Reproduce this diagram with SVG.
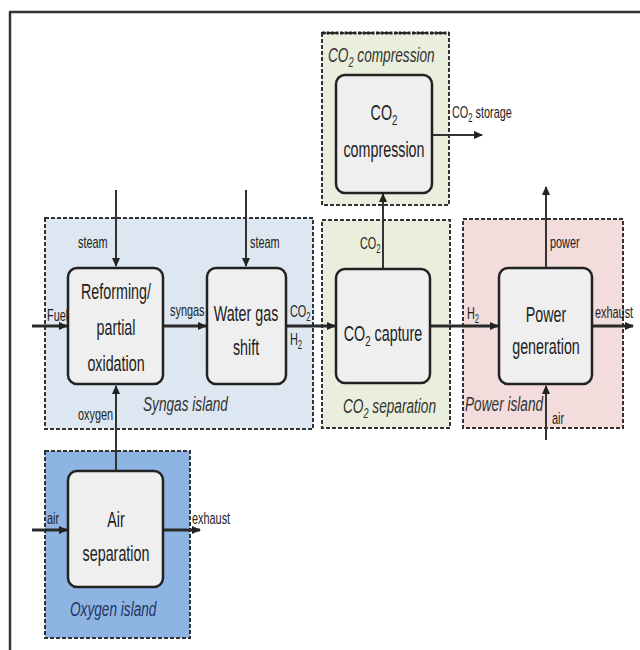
<svg xmlns="http://www.w3.org/2000/svg" width="640" height="650" viewBox="0 0 640 650">
<defs>
<marker id="ah" markerUnits="userSpaceOnUse" markerWidth="9" markerHeight="8" refX="8" refY="4" orient="auto">
<path d="M0,0 L9,4 L0,8 z" fill="#222"/>
</marker>
<style>
.isl{stroke:#333;stroke-width:2;stroke-dasharray:4 2}
.syn{fill:#dde7f1}
.grn{fill:#e9efdc}
.pow{fill:#f2dcdc}
.oxy{fill:#8eb4e3}
.node{fill:#efefef;stroke:#222;stroke-width:2.5}
.conn{stroke:#333;stroke-width:2;fill:none;marker-end:url(#ah)}
.flow{stroke-width:3;stroke:#2a2a2a}
.nt{font-family:"Liberation Sans",Arial,sans-serif;font-size:22px;fill:#222;text-anchor:middle}
.lb{font-family:"Liberation Sans",Arial,sans-serif;font-size:17px;fill:#222}
.it{font-family:"Liberation Sans",Arial,sans-serif;font-size:21px;font-style:italic;fill:#333}
</style>
</defs>
<rect x="0" y="0" width="640" height="650" fill="#fff"/>
<path d="M9,12 H640 M10,12 V650" stroke="#333" stroke-width="2.5" fill="none"/>

<g id="islands">
<g id="island-co2-compression">
<rect class="grn isl" x="322" y="33" width="127" height="172"/>
<path d="M322,33 H449" stroke="#222" stroke-width="3" stroke-dasharray="3 1.5"/>
<text class="it" transform="translate(328,62) scale(0.65,1)">CO<tspan font-size="14" dy="5">2</tspan><tspan dy="-5"> compression</tspan></text>
</g>
<g id="island-syngas">
<rect class="syn isl" x="45" y="218" width="268" height="211"/>
<text class="it" transform="translate(143,411) scale(0.65,1)">Syngas island</text>
</g>
<g id="island-co2-separation">
<rect class="grn isl" x="322" y="220" width="128" height="208"/>
<text class="it" transform="translate(343,413) scale(0.65,1)">CO<tspan font-size="14" dy="5">2</tspan><tspan dy="-5"> separation</tspan></text>
</g>
<g id="island-power">
<rect class="pow isl" x="463" y="219" width="160" height="209"/>
<text class="it" transform="translate(465,411) scale(0.65,1)">Power island</text>
</g>
<g id="island-oxygen">
<rect class="oxy isl" x="45" y="451" width="145" height="187"/>
<text class="it" transform="translate(70,616) scale(0.65,1)" style="fill:#1f3560">Oxygen island</text>
</g>
</g>

<g id="connectors">
<path class="conn" d="M116,190 V266"/>
<path class="conn" d="M246,190 V266"/>
<path class="conn flow" d="M32,326 H67"/>
<path class="conn flow" d="M163,326 H206"/>
<path class="conn flow" d="M286,326 H335"/>
<path class="conn flow" d="M430,326 H498"/>
<path class="conn flow" d="M592,326 H633"/>
<path class="conn" d="M546,268 V187"/>
<path class="conn" d="M546,440 V386"/>
<path class="conn" d="M383,268 V194"/>
<path class="conn" d="M432,135 H482"/>
<path class="conn" d="M116,471 V386"/>
<path class="conn flow" d="M32,530 H67"/>
<path class="conn flow" d="M163,530 H200"/>
</g>

<g id="labels">
<text class="lb" transform="translate(78,248) scale(0.64,1)">steam</text>
<text class="lb" transform="translate(250,248) scale(0.64,1)">steam</text>
<text class="lb" transform="translate(47,321) scale(0.64,1)">Fuel</text>
<text class="lb" transform="translate(170,316) scale(0.64,1)">syngas</text>
<text class="lb" transform="translate(290,317) scale(0.64,1)">CO<tspan font-size="12" dy="4">2</tspan></text>
<text class="lb" transform="translate(290,345) scale(0.64,1)">H<tspan font-size="12" dy="4">2</tspan></text>
<text class="lb" transform="translate(78,420) scale(0.64,1)">oxygen</text>
<text class="lb" transform="translate(360,249) scale(0.64,1)">CO<tspan font-size="12" dy="4">2</tspan></text>
<text class="lb" transform="translate(452,118) scale(0.64,1)">CO<tspan font-size="12" dy="4">2</tspan><tspan dy="-4"> storage</tspan></text>
<text class="lb" transform="translate(467,319) scale(0.64,1)">H<tspan font-size="12" dy="4">2</tspan></text>
<text class="lb" transform="translate(550,248) scale(0.64,1)">power</text>
<text class="lb" transform="translate(595,318) scale(0.64,1)">exhaust</text>
<text class="lb" transform="translate(552,424) scale(0.64,1)">air</text>
<text class="lb" transform="translate(47,524) scale(0.64,1)">air</text>
<text class="lb" transform="translate(192,524) scale(0.64,1)">exhaust</text>
</g>

<g id="node-co2-compression">
<rect class="node" x="336" y="75" width="96" height="118" rx="9"/>
<text class="nt" transform="translate(384,120) scale(0.65,1)">CO<tspan font-size="15" dy="5">2</tspan></text>
<text class="nt" transform="translate(384,157) scale(0.65,1)">compression</text>
</g>
<g id="node-reforming">
<rect class="node" x="68" y="268" width="95" height="116" rx="9"/>
<text class="nt" transform="translate(116,299) scale(0.65,1)">Reforming/</text>
<text class="nt" transform="translate(116,335) scale(0.65,1)">partial</text>
<text class="nt" transform="translate(116,371) scale(0.65,1)">oxidation</text>
</g>
<g id="node-water-gas-shift">
<rect class="node" x="207" y="268" width="79" height="116" rx="9"/>
<text class="nt" transform="translate(246,321) scale(0.65,1)">Water gas</text>
<text class="nt" transform="translate(246,355) scale(0.65,1)">shift</text>
</g>
<g id="node-co2-capture">
<rect class="node" x="336" y="269" width="94" height="114" rx="9"/>
<text class="nt" transform="translate(383,341) scale(0.65,1)">CO<tspan font-size="15" dy="5">2</tspan><tspan dy="-5"> capture</tspan></text>
</g>
<g id="node-power-generation">
<rect class="node" x="499" y="268" width="93" height="116" rx="9"/>
<text class="nt" transform="translate(546,322) scale(0.65,1)">Power</text>
<text class="nt" transform="translate(546,354) scale(0.65,1)">generation</text>
</g>
<g id="node-air-separation">
<rect class="node" x="68" y="471" width="95" height="116" rx="9"/>
<text class="nt" transform="translate(116,527) scale(0.65,1)">Air</text>
<text class="nt" transform="translate(116,561) scale(0.65,1)">separation</text>
</g>
</svg>
